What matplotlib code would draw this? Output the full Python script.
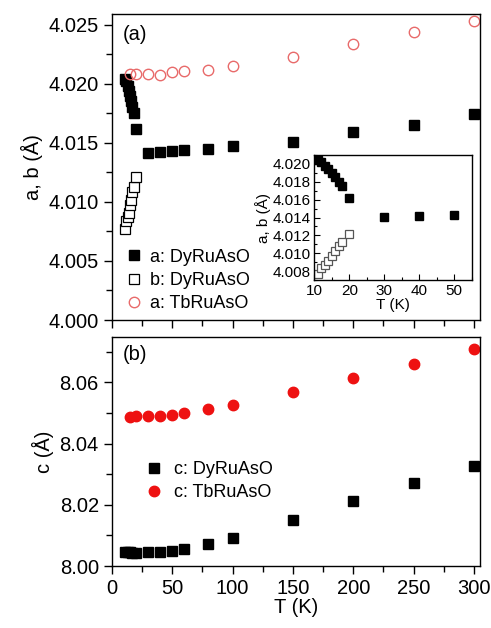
import matplotlib.pyplot as plt
import numpy as np
from matplotlib.ticker import MultipleLocator

plt.rcParams['font.family'] = ['Liberation Sans', 'DejaVu Sans']

# a, b lattice parameters of DyRuAsO (low T region + higher T)
T_dy_low = [11, 12, 13, 14, 15, 16, 17, 18, 20]
a_dy_low = [4.0204, 4.0202, 4.0198, 4.0194, 4.0190, 4.0185, 4.0180, 4.0175, 4.0162]
b_dy_low = [4.0077, 4.0084, 4.0087, 4.0091, 4.0097, 4.0102, 4.0108, 4.0113, 4.0121]
T_dy_high = [30, 40, 50, 60, 80, 100, 150, 200, 250, 300]
a_dy_high = [4.0141, 4.0142, 4.0143, 4.0144, 4.0145, 4.0147, 4.0151, 4.0159, 4.0165, 4.0174]

# a of TbRuAsO
T_tb = [15, 20, 30, 40, 50, 60, 80, 100, 150, 200, 250, 300]
a_tb = [4.0208, 4.0208, 4.0208, 4.0207, 4.0210, 4.0211, 4.0212, 4.0215, 4.0223, 4.0234, 4.0244, 4.0253]

# c lattice parameters
T_c_dy = [11, 13, 15, 17, 20, 30, 40, 50, 60, 80, 100, 150, 200, 250, 300]
c_dy = [8.0045, 8.0045, 8.0045, 8.0044, 8.0044, 8.0046, 8.0045, 8.0050, 8.0056,
        8.0072, 8.0090, 8.0150, 8.0212, 8.0270, 8.0327]
T_c_tb = [15, 20, 30, 40, 50, 60, 80, 100, 150, 200, 250, 300]
c_tb = [8.0488, 8.0490, 8.0490, 8.0491, 8.0493, 8.0501, 8.0512, 8.0526,
        8.0568, 8.0613, 8.0660, 8.0708]

fig = plt.figure(figsize=(4.91, 6.28), dpi=100)
ax1 = fig.add_axes([0.228, 0.4904, 0.7496, 0.4873])
ax2 = fig.add_axes([0.228, 0.0987, 0.7496, 0.3647])
axi = fig.add_axes([0.6405, 0.5541, 0.3202, 0.1991])

red_light = '#e86a6a'
red = '#ee1111'
ms = 7

ax1.plot(T_dy_low + T_dy_high, a_dy_low + a_dy_high, 's', color='black', ms=ms,
         label='a: DyRuAsO')
ax1.plot(T_dy_low, b_dy_low, 's', mfc='white', mec='black', mew=0.9, ms=ms,
         label='b: DyRuAsO')
ax1.plot(T_tb, a_tb, 'o', mfc='none', mec=red_light, mew=1.0, ms=ms + 0.5,
         label='a: TbRuAsO')

ax2.plot(T_c_dy, c_dy, 's', color='black', ms=ms, label='c: DyRuAsO')
ax2.plot(T_c_tb, c_tb, 'o', color=red, ms=ms + 0.5, label='c: TbRuAsO')

# inset
Ti = [t for t in T_dy_low + T_dy_high if t <= 50]
ai = [a for t, a in zip(T_dy_low + T_dy_high, a_dy_low + a_dy_high) if t <= 50]
axi.plot(Ti, ai, 's', color='black', ms=6)
axi.plot(T_dy_low, b_dy_low, 's', mfc='white', mec='#555555', mew=0.9, ms=6)

fs = 14.5
for ax in (ax1, ax2):
    ax.set_xlim(0, 305)
    ax.xaxis.set_major_locator(MultipleLocator(50))
    ax.xaxis.set_minor_locator(MultipleLocator(25))
    ax.tick_params(which='both', direction='out', top=False, right=False,
                   labelsize=fs, width=1)
    ax.tick_params(which='major', length=6)
    ax.tick_params(which='minor', length=4)

ax1.set_ylim(4.000, 4.0259)
ax1.yaxis.set_major_locator(MultipleLocator(0.005))
ax1.yaxis.set_minor_locator(MultipleLocator(0.0025))
ax1.yaxis.set_major_formatter(plt.FormatStrFormatter('%.3f'))
ax1.tick_params(labelbottom=False)
ax1.set_ylabel('a, b (Å)', fontsize=fs, labelpad=4)
ax1.text(0.03, 0.965, '(a)', transform=ax1.transAxes, fontsize=fs, va='top')
ax1.legend(loc='lower left', bbox_to_anchor=(0.0, -0.01), frameon=False,
           fontsize=13, handletextpad=0.3, borderaxespad=0.2,
           labelspacing=0.35, handlelength=1.2)

ax2.set_ylim(8.00, 8.0748)
ax2.yaxis.set_major_locator(MultipleLocator(0.02))
ax2.yaxis.set_minor_locator(MultipleLocator(0.01))
ax2.yaxis.set_major_formatter(plt.FormatStrFormatter('%.2f'))
ax2.set_ylabel('c (Å)', fontsize=fs, labelpad=4)
ax2.set_xlabel('T (K)', fontsize=fs, labelpad=0)
ax2.text(0.03, 0.965, '(b)', transform=ax2.transAxes, fontsize=fs, va='top')
ax2.legend(loc='center left', bbox_to_anchor=(0.04, 0.37), frameon=False,
           fontsize=13, handletextpad=0.5, labelspacing=0.35, handlelength=1.2)

axi.set_xlim(10, 55)
axi.set_ylim(4.0070, 4.0210)
axi.xaxis.set_major_locator(MultipleLocator(10))
axi.xaxis.set_minor_locator(MultipleLocator(5))
axi.yaxis.set_major_locator(MultipleLocator(0.002))
axi.yaxis.set_minor_locator(MultipleLocator(0.001))
axi.yaxis.set_major_formatter(plt.FormatStrFormatter('%.3f'))
axi.tick_params(which='both', direction='in', top=False, right=False,
                labelsize=11, width=0.8, pad=3)
axi.tick_params(which='major', length=4)
axi.tick_params(which='minor', length=2.5)
axi.set_xlabel('T (K)', fontsize=11, labelpad=0)
axi.set_ylabel('a, b (Å)', fontsize=11, labelpad=1)

for ax in (ax1, ax2, axi):
    for s in ax.spines.values():
        s.set_linewidth(1.0)

fig.savefig('out.png', dpi=100)
